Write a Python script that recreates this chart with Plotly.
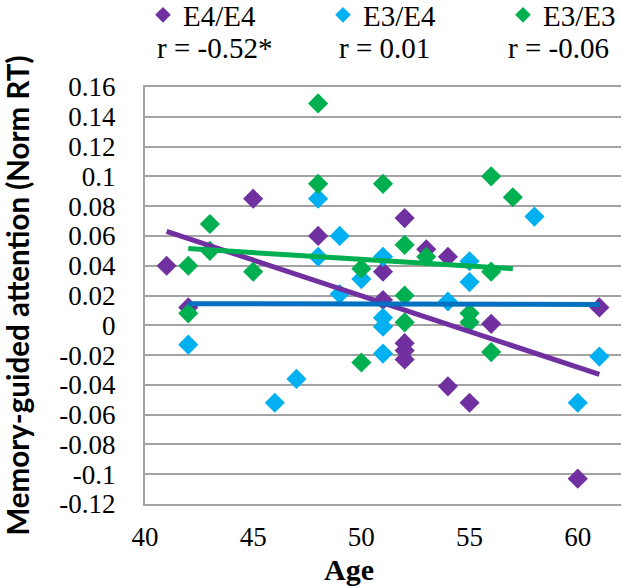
import plotly.graph_objects as go

# ---- data ----
e44_age = [41, 42, 45, 48, 51, 51, 52, 52, 52, 52, 53, 54, 54, 55, 56, 60, 61]
e44_val = [0.040, 0.012, 0.085, 0.060, 0.036, 0.017, 0.072, -0.012, -0.017, -0.023,
           0.051, 0.046, -0.041, -0.052, 0.001, -0.103, 0.012]

e34_age = [42, 46, 47, 48, 48, 49, 49, 50, 51, 51, 51, 51, 54, 55, 55, 58, 60, 61]
e34_val = [-0.013, -0.052, -0.036, 0.085, 0.046, 0.060, 0.021, 0.031, 0.046, 0.005,
           -0.001, -0.019, 0.016, 0.043, 0.029, 0.073, -0.052, -0.021]

e33_age = [42, 42, 43, 43, 45, 48, 48, 50, 50, 51, 52, 52, 52, 53, 55, 55, 56, 56, 56, 57]
e33_val = [0.040, 0.008, 0.068, 0.050, 0.036, 0.149, 0.095, 0.038, -0.025, 0.095,
           0.054, 0.020, 0.002, 0.046, 0.008, 0.002, 0.100, 0.036, -0.018, 0.086]

# trend line end points (age, value)
trend44_age = [41, 61]
trend44_val = [0.063, -0.033]
trend34_age = [42, 61]
trend34_val = [0.0145, 0.0140]
trend33_age = [42, 57]
trend33_val = [0.0515, 0.038]

series_names = ["E4/E4", "E3/E4", "E3/E3"]
r_labels = ["r = -0.52*", "r = 0.01", "r = -0.06"]

x_ticks = [40, 45, 50, 55, 60]
y_ticks = [-0.12, -0.1, -0.08, -0.06, -0.04, -0.02, 0, 0.02, 0.04, 0.06, 0.08, 0.1, 0.12, 0.14, 0.16]
y_tick_text = ["-0.12", "-0.1", "-0.08", "-0.06", "-0.04", "-0.02", "0", "0.02", "0.04",
               "0.06", "0.08", "0.1", "0.12", "0.14", "0.16"]

# ---- styling ----
PURPLE = "#7030A0"
CYAN = "#00B0F0"
GREEN = "#00B050"
BLUE = "#0070C0"
GRID = "#A3A3A3"
SERIF = "Liberation Serif, Times New Roman, serif"

fig = go.Figure()

for name, xs, ys, col in [(series_names[0], e44_age, e44_val, PURPLE),
                          (series_names[1], e34_age, e34_val, CYAN),
                          (series_names[2], e33_age, e33_val, GREEN)]:
    fig.add_trace(go.Scatter(x=xs, y=ys, mode="markers", name=name,
                             marker=dict(symbol="diamond", size=15.5, color=col,
                                         line=dict(width=0))))

for xs, ys, col in [(trend44_age, trend44_val, PURPLE),
                    (trend34_age, trend34_val, BLUE),
                    (trend33_age, trend33_val, GREEN)]:
    fig.add_trace(go.Scatter(x=xs, y=ys, mode="lines", showlegend=False,
                             line=dict(color=col, width=5), hoverinfo="skip"))

L, T, W_PLOT, H_PLOT = 145, 87, 476, 417


def px_x(p):
    return (p - L) / W_PLOT


def px_y(p):
    return (T + H_PLOT - p) / H_PLOT


annos = []
for txt, cx in zip(r_labels, [214, 384, 558]):
    annos.append(dict(text=txt, x=px_x(cx), y=px_y(48), xref="paper", yref="paper",
                      xanchor="center", yanchor="middle", showarrow=False,
                      font=dict(family=SERIF, size=29, color="black")))
annos.append(dict(text="<b>Age</b>", x=px_x(349), y=px_y(569), xref="paper", yref="paper",
                  xanchor="center", yanchor="middle", showarrow=False,
                  font=dict(family=SERIF, size=30, color="black")))

fig.update_layout(
    width=622, height=586,
    margin=dict(l=L, r=622 - L - W_PLOT, t=T, b=586 - T - H_PLOT, autoexpand=False),
    paper_bgcolor="white", plot_bgcolor="white",
    showlegend=True,
    legend=dict(orientation="h", x=px_x(143), y=px_y(15), xanchor="left", yanchor="middle",
                font=dict(family=SERIF, size=29, color="black"),
                itemsizing="constant", entrywidth=135, bgcolor="rgba(0,0,0,0)"),
    annotations=annos,
    xaxis=dict(range=[40, 62], tickmode="array", tickvals=x_ticks,
               ticktext=[str(v) for v in x_ticks],
               showgrid=False, zeroline=False, showline=True, mirror=True,
               linecolor=GRID, linewidth=2, ticks="", ticklabelstandoff=8,
               tickfont=dict(family=SERIF, size=27, color="black")),
    yaxis=dict(range=[-0.12, 0.16], tickmode="array", tickvals=y_ticks, ticktext=y_tick_text,
               showgrid=True, gridcolor=GRID, gridwidth=2, zeroline=False,
               showline=True, linecolor=GRID, linewidth=2, ticks="", ticklabelstandoff=22,
               tickfont=dict(family=SERIF, size=27, color="black"),
               title=dict(text="<b>Memory-guided attention (Norm RT)</b>", standoff=26,
                          font=dict(family="Lato, Open Sans, sans-serif", size=29.5, color="black"))),
)

fig.write_html("out.html", config={"displayModeBar": False},
               post_script="document.body.style.margin='0';document.body.style.overflow='hidden';")
